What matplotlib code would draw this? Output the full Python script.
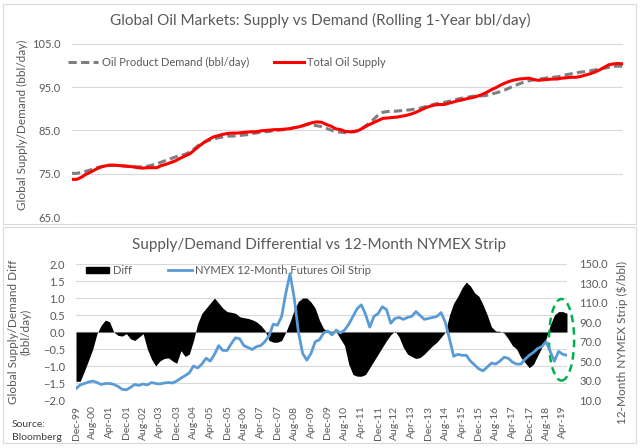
import numpy as np
import matplotlib
matplotlib.use('Agg')
from matplotlib import pyplot as plt, patches as mpatches
from matplotlib.lines import Line2D

plt.rcParams['font.family'] = ['Lato', 'DejaVu Sans']

# bimonthly points, Dec-99 .. Jun-19
supply = [73.7, 73.7, 74.2, 74.9, 75.4, 76.0, 76.5, 76.8, 77.0, 77.0,
          76.9, 76.8, 76.7, 76.6, 76.4, 76.3, 76.4, 76.4, 76.4, 76.9,
          77.2, 77.6, 78.0, 78.6, 79.1, 79.6, 80.5, 81.4, 82.2, 82.9,
          83.5, 83.8, 84.1, 84.3, 84.4, 84.4, 84.5, 84.6, 84.7, 84.7,
          84.9, 85.0, 85.1, 85.2, 85.2, 85.3, 85.4, 85.6, 85.8, 86.1,
          86.5, 86.8, 87.0, 86.9, 86.4, 86.0, 85.4, 85.2, 84.8, 84.7,
          84.8, 85.1, 85.7, 86.3, 86.8, 87.3, 87.8, 87.9, 88.0, 88.1,
          88.3, 88.5, 88.8, 89.2, 89.7, 90.2, 90.6, 90.9, 91.0, 91.0,
          91.3, 91.6, 91.9, 92.1, 92.4, 92.6, 92.9, 93.3, 93.8, 94.4,
          94.9, 95.5, 96.0, 96.4, 96.7, 96.9, 97.0, 97.1, 96.8, 96.6,
          96.7, 96.8, 96.9, 96.9, 97.1, 97.2, 97.3, 97.3, 97.5, 97.8,
          98.1, 98.5, 99.0, 99.6, 100.2, 100.4, 100.5, 100.4]

demand = [75.1, 75.1, 75.3, 75.6, 75.9, 76.3, 76.6, 76.8, 76.9, 76.9,
          76.9, 76.8, 76.7, 76.6, 76.6, 76.6, 76.7, 77.0, 77.3, 77.7,
          78.1, 78.5, 78.9, 79.2, 79.5, 80.0, 80.8, 81.7, 82.3, 82.7,
          83.0, 83.3, 83.5, 83.7, 83.7, 83.8, 83.9, 84.0, 84.3, 84.4,
          84.6, 84.7, 84.8, 85.0, 85.1, 85.2, 85.3, 85.6, 85.8, 86.1,
          86.4, 86.3, 86.1, 85.9, 85.5, 85.1, 84.8, 84.6, 84.5, 84.6,
          84.7, 85.0, 85.8, 86.6, 87.5, 88.6, 89.2, 89.4, 89.4, 89.5,
          89.6, 89.7, 89.8, 90.0, 90.2, 90.5, 90.8, 91.1, 91.3, 91.5,
          91.7, 92.0, 92.3, 92.5, 92.7, 92.9, 93.0, 93.0, 93.1, 93.4,
          93.7, 94.0, 94.4, 94.9, 95.4, 95.8, 96.2, 96.5, 96.7, 96.9,
          97.0, 97.2, 97.3, 97.4, 97.6, 97.9, 98.1, 98.3, 98.5, 98.6,
          98.8, 99.0, 99.2, 99.4, 99.6, 99.8, 99.9, 99.8]

diff = [-1.45, -1.45, -1.15, -0.83, -0.5, -0.05, 0.2, 0.35, 0.3, 0.0,
        -0.1, -0.12, -0.05, -0.2, -0.25, -0.15, -0.05, -0.5, -0.8, -1.0,
        -0.85, -0.78, -0.76, -0.85, -0.92, -0.55, -0.72, -0.65, -0.25, 0.25,
        0.55, 0.7, 0.85, 1.0, 0.85, 0.7, 0.6, 0.58, 0.55, 0.45,
        0.42, 0.4, 0.36, 0.3, 0.2, 0.05, -0.25, -0.3, -0.3, -0.25,
        0.0, 0.3, 0.65, 0.9, 1.0, 1.0, 0.88, 0.7, 0.35, 0.1,
        0.03, 0.02, 0.01, -0.2, -0.4, -0.95, -1.25, -1.3, -1.3, -1.25,
        -1.05, -0.85, -0.65, -0.45, -0.25, -0.08, 0.03, -0.15, -0.45, -0.65,
        -0.72, -0.78, -0.75, -0.65, -0.52, -0.4, -0.3, -0.15, 0.0, 0.5,
        0.85, 1.05, 1.3, 1.47, 1.35, 1.15, 1.05, 0.8, 0.5, 0.15,
        0.03, 0.02, -0.03, -0.2, -0.4, -0.5, -0.75, -0.9, -1.05, -0.95,
        -0.7, -0.45, -0.2, 0.2, 0.5, 0.6, 0.6, 0.55]

nymex = [21.7, 25.5, 27, 28.5, 29.5, 28, 26, 27, 27, 26,
         24, 21, 20.5, 23, 26, 25, 26.5, 25.5, 28, 27,
         26.5, 27.5, 28, 27.5, 29.5, 32.5, 35, 38, 45, 43,
         47, 53, 50, 57, 66, 61, 61, 68, 74, 73,
         66, 64, 62, 65, 66, 70, 76, 88, 87, 96,
         120, 140, 115, 80, 58, 51, 58, 70, 72, 79,
         81, 77, 82, 79, 82, 88, 96, 104, 108, 98,
         85, 96, 99, 106, 103, 89, 94, 95, 93, 95,
         96, 101, 97, 93, 94, 95, 96, 100, 90, 73,
         55, 57, 56, 56, 50, 46, 42, 40, 44, 48,
         47, 50, 54, 53, 49, 47, 47, 52, 56, 59,
         63, 65, 70, 60, 50, 60, 57, 56]

tick_labels = ['Dec-99', 'Aug-00', 'Apr-01', 'Dec-01', 'Aug-02', 'Apr-03',
               'Dec-03', 'Aug-04', 'Apr-05', 'Dec-05', 'Aug-06', 'Apr-07',
               'Dec-07', 'Aug-08', 'Apr-09', 'Dec-09', 'Aug-10', 'Apr-11',
               'Dec-11', 'Aug-12', 'Apr-13', 'Dec-13', 'Aug-14', 'Apr-15',
               'Dec-15', 'Aug-16', 'Apr-17', 'Dec-17', 'Aug-18', 'Apr-19']

W, H = 640, 448
txt = '#595959'
grid = '#D9D9D9'
x = np.arange(len(supply))

fig = plt.figure(figsize=(W / 100, H / 100), dpi=100)

# chart frames
for (x0, y0, x1, y1) in [(3, 4, 636, 224), (3, 227, 636, 443)]:
    fig.patches.append(mpatches.Rectangle((x0 / W, 1 - y1 / H), (x1 - x0) / W, (y1 - y0) / H,
                                          transform=fig.transFigure, fill=False,
                                          ec=grid, lw=0.8))

# ---- top chart
ax1 = fig.add_axes([72 / W, 1 - 217 / H, 551 / W, 173 / H])
l_dem, = ax1.plot(x, demand, color='#7F7F7F', lw=2.2, ls=(0, (2.7, 1.4)))
l_sup, = ax1.plot(x, supply, color='#FF0000', lw=2.2)
ax1.set_xlim(0, x[-1])
ax1.set_ylim(65, 105)
ax1.set_yticks(np.arange(65, 106, 10))
ax1.yaxis.set_major_formatter('{x:.1f}')
ax1.set_xticks([])
ax1.grid(axis='y', color=grid, lw=0.8)
ax1.set_axisbelow(True)
for s in ax1.spines.values():
    s.set_visible(False)
ax1.tick_params(axis='y', length=0, pad=8, labelsize=8, labelcolor=txt)

fig.legend([l_dem, l_sup], ['Oil Product Demand (bbl/day)', 'Total Oil Supply'],
           loc='center left', bbox_to_anchor=(68 / W, 1 - 62 / H), ncol=2,
           frameon=False, fontsize=8, handlelength=2.7, handletextpad=0.35,
           columnspacing=2.2, borderpad=0, borderaxespad=0, labelcolor=txt)

fig.text(320 / W, 1 - 20 / H, 'Global Oil Markets: Supply vs Demand (Rolling 1-Year bbl/day)',
         ha='center', va='center', fontsize=11, color=txt)
fig.text(22 / W, 1 - 125 / H, 'Global Supply/Demand (bbl/day)', rotation=90,
         ha='center', va='center', fontsize=8.5, color=txt)

# ---- bottom chart
ax2 = fig.add_axes([76 / W, 1 - 400 / H, 491 / W, 136 / H])
ax2.fill_between(x, 0, diff, color='black', lw=0)
ax2.axhline(0, color='#BFBFBF', lw=0.8, zorder=0.5)
ax2.set_xlim(0, x[-1])
ax2.set_ylim(-2, 2)
ax2.set_yticks(np.arange(-2, 2.01, 0.5))
ax2.yaxis.set_major_formatter('{x:.1f}')
ax2.set_xticks(np.arange(0, len(x), 4))
ax2.set_xticklabels(tick_labels, rotation=90)
ax2.grid(axis='y', color=grid, lw=0.8)
ax2.set_axisbelow(True)
for s in ax2.spines.values():
    s.set_visible(False)
ax2.tick_params(axis='y', length=0, pad=8, labelsize=8, labelcolor=txt)
ax2.tick_params(axis='x', length=0, pad=4, labelsize=7.5, labelcolor=txt)

ax3 = ax2.twinx()
l_ny, = ax3.plot(x, nymex, color='#5B9BD5', lw=2)
ax3.set_xlim(0, x[-1])
ax3.set_ylim(10, 150)
ax3.set_yticks(np.arange(10, 151, 20))
ax3.yaxis.set_major_formatter('{x:.1f}')
for s in ax3.spines.values():
    s.set_visible(False)
ax3.tick_params(axis='y', length=0, pad=9, labelsize=8, labelcolor=txt)

# highlight of the latest readings
ax3.add_patch(mpatches.Ellipse((115.7, 72), 6.0, 84, fill=False, ec='#00B050',
                               lw=1.8, ls=(0, (3, 2)), clip_on=False))

fig.legend([mpatches.Patch(color='black'), l_ny],
           ['Diff', 'NYMEX 12-Month Futures Oil Strip'],
           loc='center left', bbox_to_anchor=(86 / W, 1 - 270 / H), ncol=2,
           frameon=False, fontsize=8, handlelength=2.1, handleheight=0.45,
           handletextpad=0.3, columnspacing=3.3, borderpad=0, borderaxespad=0,
           labelcolor=txt)

fig.text(319 / W, 1 - 245 / H, 'Supply/Demand Differential vs 12-Month NYMEX Strip',
         ha='center', va='center', fontsize=11, color=txt)
fig.text(20 / W, 1 - 332 / H, 'Global Supply/Demand Diff\n(bbl/day)', rotation=90,
         ha='center', va='center', multialignment='center', fontsize=8.5, color=txt)
fig.text(622 / W, 1 - 342 / H, '12-Month NYMEX Strip ($/bbl)', rotation=90,
         ha='center', va='center', fontsize=8.5, color=txt)
fig.text(12 / W, 1 - 431 / H, 'Source:\nBloomberg', ha='left', va='center',
         fontsize=7.5, color='#404040', linespacing=1.5)

plt.savefig('out.png', dpi=100)
